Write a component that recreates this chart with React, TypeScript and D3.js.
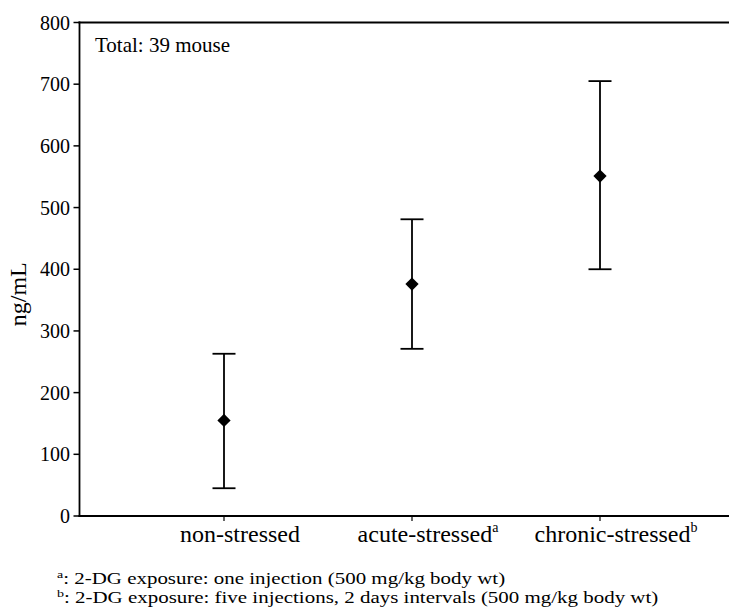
import React from "react";
import * as d3 from "d3";

const categories = ["non-stressed", "acute-stressed", "chronic-stressed"];
const superscripts = ["", "a", "b"];
const means = [155, 376, 551];
const upper = [263, 481, 705];
const lower = [45, 271, 400];
const yTicks = [0, 100, 200, 300, 400, 500, 600, 700, 800];
const yLabel = "ng/mL";
const note = "Total: 39 mouse";
const footnotes = [
  { sup: "a", text: ": 2-DG exposure: one injection (500 mg/kg body wt)" },
  { sup: "b", text: ": 2-DG exposure: five injections, 2 days intervals (500 mg/kg body wt)" },
];

const W = 729;
const H = 611;
const left = 79.5;
const top = 22.5;
const bottom = 516;
const right = 729;
const font = '"Liberation Serif", "Times New Roman", Times, "DejaVu Serif", serif';

export default function App() {
  const x = d3.scalePoint<string>().domain(categories).range([224, 600]);
  const y = d3.scaleLinear().domain([0, 800]).range([bottom, top]);
  const diamond = d3.symbol(d3.symbolSquare, 88)();
  const capHalf = 11.5;

  return (
    <svg
      width={W}
      height={H}
      style={{ position: "absolute", left: 0, top: 0, background: "#fff", fontFamily: font }}
    >
      {/* frame */}
      <line x1={left} x2={left} y1={top - 1} y2={bottom + 1} stroke="#000" strokeWidth={1.8} />
      <line x1={left - 1} x2={right} y1={top} y2={top} stroke="#000" strokeWidth={2.2} />
      <line x1={left - 1} x2={right} y1={bottom} y2={bottom} stroke="#000" strokeWidth={2} />

      {/* y ticks */}
      {yTicks.map((t) => (
        <g key={t}>
          <line x1={left - 6} x2={left} y1={y(t)} y2={y(t)} stroke="#000" strokeWidth={1.5} />
          <text x={70} y={y(t)} dy="0.35em" textAnchor="end" fontSize={20} style={{ fontFamily: font }}>
            {t}
          </text>
        </g>
      ))}

      {/* y label */}
      <text
        transform={`translate(26, ${(top + bottom) / 2 + 25}) rotate(-90)`}
        textAnchor="middle"
        fontSize={24}
        style={{ fontFamily: font }}
      >
        {yLabel}
      </text>

      {/* x ticks & labels */}
      {categories.map((c, i) => (
        <g key={c}>
          <line x1={x(c)} x2={x(c)} y1={bottom} y2={bottom + 5} stroke="#000" strokeWidth={1.2} />
          <text x={(x(c) as number) + 16} y={542} textAnchor="middle" fontSize={24} style={{ fontFamily: font }}>
            {c}
            {superscripts[i] && (
              <tspan fontSize={14} dy={-10}>
                {superscripts[i]}
              </tspan>
            )}
          </text>
        </g>
      ))}

      {/* error bars */}
      {categories.map((c, i) => {
        const cx = x(c) as number;
        return (
          <g key={"e" + c} stroke="#000" strokeWidth={1.8}>
            <line x1={cx} x2={cx} y1={y(upper[i])} y2={y(lower[i])} />
            <line x1={cx - capHalf} x2={cx + capHalf} y1={y(upper[i])} y2={y(upper[i])} />
            <line x1={cx - capHalf} x2={cx + capHalf} y1={y(lower[i])} y2={y(lower[i])} />
            <path d={diamond || ""} transform={`translate(${cx}, ${y(means[i])}) rotate(45)`} fill="#000" stroke="none" />
          </g>
        );
      })}

      {/* annotation */}
      <text x={95} y={51.5} fontSize={21} style={{ fontFamily: font }}>
        {note}
      </text>

      {/* footnotes */}
      {footnotes.map((f, i) => (
        <g key={f.sup} transform={`translate(57, ${584 + i * 18.5}) scale(1.27, 1)`}>
          <text x={0} y={0} fontSize={16.5} style={{ fontFamily: font }}>
            <tspan fontSize={11} dy={-6}>
              {f.sup}
            </tspan>
            <tspan dy={6}>{f.text}</tspan>
          </text>
        </g>
      ))}
    </svg>
  );
}
